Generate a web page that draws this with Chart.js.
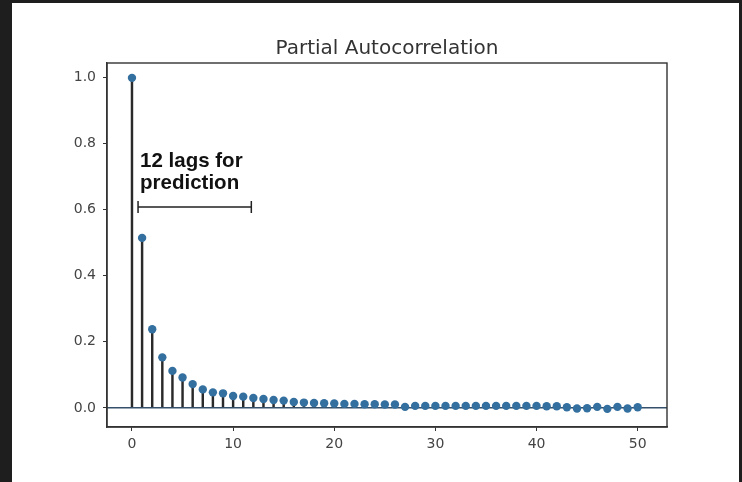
<!DOCTYPE html>
<html>
<head>
<meta charset="utf-8">
<script src="https://cdn.jsdelivr.net/npm/chart.js@4"></script>
<style>
  html, body { margin: 0; padding: 0; background: #1e1e1e; }
  #wrap { position: absolute; left: 12px; top: 3px; width: 727px; height: 479px; background: #fff; }
</style>
</head>
<body>
<div id="wrap"><canvas id="c"></canvas></div>
<script>
// lag 0..50 partial autocorrelation values
const lags = [];
for (let i = 0; i <= 50; i++) lags.push(i);
const pacf = [1.0, 0.515, 0.238, 0.153, 0.112, 0.092, 0.072, 0.056, 0.047, 0.044,
  0.036, 0.034, 0.030, 0.027, 0.024, 0.022, 0.018, 0.016, 0.015, 0.014,
  0.013, 0.012, 0.012, 0.011, 0.011, 0.010, 0.010, 0.003, 0.006, 0.006,
  0.006, 0.006, 0.006, 0.006, 0.006, 0.006, 0.006, 0.006, 0.006, 0.006,
  0.006, 0.005, 0.005, 0.002, -0.002, -0.001, 0.003, -0.003, 0.003, -0.002, 0.002];
const xTicks = [0, 10, 20, 30, 40, 50];
const yTicks = [0.0, 0.2, 0.4, 0.6, 0.8, 1.0];
const xMin = -2.47, xMax = 52.9;
const yMin = -0.058, yMax = 1.045;
const noteLines = ['12 lags for', 'prediction'];
const noteRange = [0.6, 11.8]; // bracket span in lags

const points = lags.map((l, i) => ({ x: l, y: pacf[i] }));

const frame = {
  id: 'frame',
  afterDatasetsDraw(chart) {
    const { ctx, chartArea: a, scales: { x, y } } = chart;
    ctx.save();
    // note + bracket
    ctx.fillStyle = '#111';
    ctx.font = 'bold 20.5px "Liberation Sans", Arial, sans-serif';
    ctx.textBaseline = 'alphabetic';
    ctx.fillText(noteLines[0], x.getPixelForValue(0.8), y.getPixelForValue(0.73));
    ctx.fillText(noteLines[1], x.getPixelForValue(0.8), y.getPixelForValue(0.662));
    const bx1 = x.getPixelForValue(noteRange[0]), bx2 = x.getPixelForValue(noteRange[1]);
    const by = y.getPixelForValue(0.609);
    ctx.strokeStyle = '#222';
    ctx.lineWidth = 1.5;
    ctx.beginPath();
    ctx.moveTo(bx1, by); ctx.lineTo(bx2, by);
    ctx.moveTo(bx1, by - 6); ctx.lineTo(bx1, by + 6);
    ctx.moveTo(bx2, by - 6); ctx.lineTo(bx2, by + 6);
    ctx.stroke();
    // axes box
    ctx.strokeStyle = '#333';
    ctx.lineWidth = 1.4;
    ctx.strokeRect(a.left, a.top, a.right - a.left, a.bottom - a.top);
    ctx.restore();
  }
};

new Chart(document.getElementById('c'), {
  type: 'bar',
  data: {
    datasets: [
      {
        type: 'scatter',
        data: points,
        pointRadius: 4.2,
        pointHoverRadius: 4.2,
        backgroundColor: '#336f9f',
        borderColor: '#336f9f',
        borderWidth: 0,
        order: 1
      },
      {
        type: 'line',
        data: [{ x: xMin, y: 0 }, { x: xMax, y: 0 }],
        borderColor: '#34506a',
        borderWidth: 1.5,
        pointRadius: 0,
        order: 2
      },
      {
        type: 'bar',
        data: points,
        backgroundColor: '#2a2a2a',
        barThickness: 1.8,
        order: 3
      }
    ]
  },
  plugins: [frame],
  options: {
    responsive: true,
    maintainAspectRatio: false,
    animation: false,
    layout: { padding: { left: 0, right: 72, bottom: 0 } },
    plugins: {
      legend: { display: false },
      tooltip: { enabled: false },
      title: {
        display: true,
        text: 'Partial Autocorrelation',
        fullSize: false,
        color: '#333',
        font: { family: '"DejaVu Sans"', size: 20, weight: 'normal' },
        padding: { top: 34, bottom: 2 }
      }
    },
    scales: {
      x: {
        type: 'linear',
        min: xMin,
        max: xMax,
        offset: false,
        afterBuildTicks: s => { s.ticks = xTicks.map(v => ({ value: v })); },
        afterFit: s => { s.height = 55; },
        grid: { offset: false, drawOnChartArea: false, drawTicks: true, tickLength: 4, color: '#333' },
        border: { display: true, color: '#333', width: 1.4 },
        ticks: { color: '#444', padding: 5, maxRotation: 0, font: { family: '"DejaVu Sans"', size: 14 } }
      },
      y: {
        min: yMin,
        max: yMax,
        afterBuildTicks: s => { s.ticks = yTicks.map(v => ({ value: v })); },
        afterFit: s => { s.width = 95; },
        grid: { drawOnChartArea: false, drawTicks: true, tickLength: 4, color: '#333' },
        border: { display: true, color: '#333', width: 1.4 },
        ticks: { color: '#444', padding: 7, callback: v => v.toFixed(1), font: { family: '"DejaVu Sans"', size: 14 } }
      }
    }
  }
});
</script>
</body>
</html>
